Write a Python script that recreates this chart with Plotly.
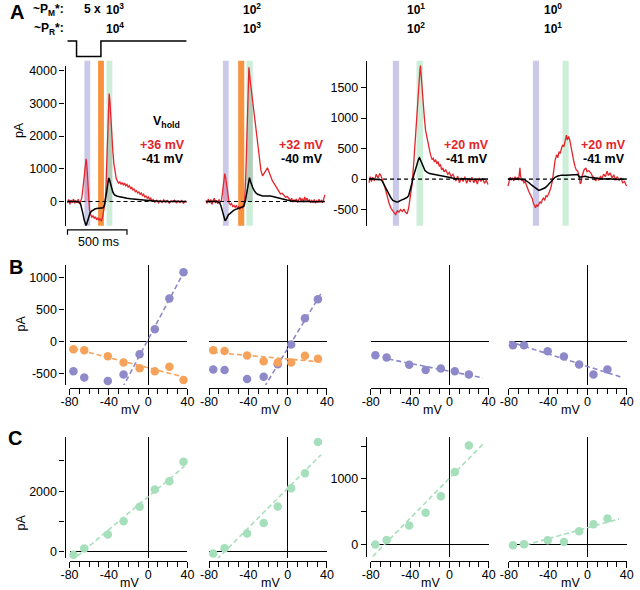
import numpy as np
import plotly.graph_objects as go

# ---------------- data ----------------
# Panel A: whole-cell currents (time in ms, current in pA)
a1_red_t = [0,10,20,30,40,50,60,70,80,90,100,110,120,130,140,150,156,162,170,178,185,195,205,215,225,235,245,255,265,275,285,295,305,315,322,330,338,345,350,356,363,370,380,390,400,410,420,430,440,450,460,470,480,490,500,510,520,530,540,550,560,570,580,590,600,610,620,630,640,650,660,670,680,690,700,710,720,735,750,765,780,795,810,825,840,855,870,885,900,915,930,945,960,975,990,1000]
a1_red_pa = [-50,60,-90,40,-30,80,-60,30,-40,70,-80,20,100,400,850,1200,1300,1150,600,100,-250,-400,-480,-430,-520,-470,-560,-500,-580,-520,-600,-480,-300,-50,300,1200,2300,3100,3300,3100,2600,2200,1600,1150,900,700,620,560,600,520,580,500,560,480,520,440,480,400,430,350,380,300,330,260,290,220,260,180,220,140,170,100,140,60,100,20,60,-20,40,-40,30,-30,50,-20,30,-50,20,-10,40,-40,20,-30,30,-50,10,-20]
a1_blk_t = [0,20,40,60,80,100,110,120,130,140,150,156,162,170,180,190,200,215,230,245,260,275,290,300,310,320,330,340,347,355,362,370,380,390,400,420,440,460,480,500,530,560,590,620,650,680,710,740,770,800,830,860,890,920,950,1000]
a1_blk_pa = [0,10,-10,5,-5,-20,-80,-200,-380,-560,-700,-740,-680,-560,-430,-350,-300,-260,-230,-215,-210,-205,-200,-190,-120,50,300,580,720,640,520,400,300,230,190,160,140,120,110,100,85,70,60,50,40,30,20,10,5,0,10,-5,5,-5,0,0]

a2_red_t = [0,10,20,30,40,50,60,70,80,90,100,110,120,130,140,150,158,165,175,185,195,205,215,225,235,245,255,265,275,285,295,305,315,325,335,345,353,361,372,385,394,405,415,421,435,448,462,476,490,505,517,530,544,560,575,585,600,615,626,640,655,670,685,694,710,720,730,740,750,760,770,780,790,800,810,820,830,840,850,860,870,880,890,900,910,920,930,940,950,960,970,980,990,1000]
a2_red_pa = [30,-60,80,-40,60,-90,20,100,-50,40,-70,60,-30,20,300,650,850,750,450,150,-50,-100,-60,-150,-120,-180,-130,-200,-150,-220,-170,-200,-120,0,800,2200,3500,4100,3700,3300,3000,2600,2300,2150,1700,1250,950,780,850,950,1030,900,780,620,540,480,380,280,230,250,170,130,150,100,30,100,-20,60,0,80,-30,50,120,20,90,-20,140,40,100,-10,60,-40,30,-20,60,-50,20,-30,70,-20,30,-40,100,200]
a2_blk_t = [0,20,40,60,80,100,115,125,135,145,155,161,168,178,190,202,215,230,245,260,275,290,305,318,330,340,350,358,366,374,384,394,405,420,435,455,475,500,520,540,560,590,620,650,680,710,740,780,850,900,1000]
a2_blk_pa = [0,5,-5,0,5,-10,-40,-120,-250,-400,-540,-590,-560,-470,-400,-370,-320,-280,-250,-230,-215,-200,-190,-150,0,200,450,650,730,620,500,420,340,260,220,190,170,165,175,165,150,120,95,70,45,25,10,0,5,-5,0]

a3_red_t = [0,10,20,30,45,60,75,90,101,115,130,142,155,170,185,197,210,224,238,252,265,280,293,305,320,333,347,361,375,388,400,410,420,428,432,438,444,449,457,465,475,484,495,505,511,520,530,539,550,560,570,580,590,600,610,621,630,645,662,675,690,705,716,730,745,760,775,790,805,820,835,850,865,880,895,910,925,940,955,970,985,1000]
a3_red_pa = [-60,40,-40,30,-30,80,20,90,50,-20,-120,-200,-300,-410,-480,-520,-550,-580,-520,-540,-500,-530,-490,-540,-570,-470,-300,-90,250,670,1000,1270,1550,1800,1860,1700,1450,1420,1250,1000,800,700,560,460,450,380,320,340,280,320,250,290,210,240,150,185,120,150,80,110,40,80,30,-30,50,-60,20,-40,40,-70,10,-50,30,-60,0,-80,20,-40,10,-70,-20,-90]
a3_blk_t = [0,30,60,90,101,115,130,142,156,170,185,200,215,230,245,260,275,290,305,320,333,347,361,375,388,400,410,418,424,432,443,456,470,490,510,530,560,600,634,670,716,760,800,900,1000]
a3_blk_pa = [0,5,-5,0,-10,-50,-110,-160,-220,-260,-310,-350,-370,-375,-370,-350,-340,-330,-320,-300,-270,-180,-60,60,150,240,300,340,350,310,260,190,140,110,90,85,75,60,50,30,10,0,5,-5,0]

a4_red_t = [0,10,20,30,41,50,60,70,80,90,96,101,106,115,125,135,145,155,164,175,185,195,205,215,225,232,240,250,260,270,280,290,300,310,320,330,341,350,360,374,385,396,410,420,430,440,451,460,470,480,492,500,510,519,528,537,546,555,565,575,587,600,608,615,625,640,656,665,680,697,710,725,738,750,765,779,790,805,820,834,845,860,875,890,905,920,935,950,965,980,997]
a4_red_pa = [-114,-50,30,-20,22,-30,40,-10,30,-20,80,185,60,-30,-10,-60,-40,-110,-142,-200,-240,-280,-320,-400,-440,-470,-420,-450,-410,-370,-400,-330,-310,-350,-270,-290,-250,-200,-150,-30,150,300,400,350,450,420,510,560,530,650,720,640,700,650,550,420,350,280,200,150,130,40,-80,-60,60,150,185,120,140,100,50,20,-30,20,-20,50,10,80,40,130,60,100,20,70,-10,40,-20,20,-60,-40,-114]
a4_blk_t = [0,50,100,140,160,178,200,220,232,250,260,275,290,314,335,355,375,396,420,451,490,533,560,587,600,620,650,680,710,750,800,860,900,1000]
a4_blk_pa = [0,5,0,-10,-30,-60,-100,-130,-142,-175,-185,-175,-160,-142,-100,-60,-10,30,50,65,65,65,70,76,30,40,45,30,20,10,0,5,-5,0]

# Analysis windows (ms): early (purple), middle (orange), late (green)
a_windows = [
    {"early": [142, 191], "mid": [257, 306], "late": [328, 377]},
    {"early": [142, 191], "mid": [271, 322], "late": [340, 394]},
    {"early": [200, 252], "late": [399, 454]},
    {"early": [210, 262], "late": [459, 511]},
]
# light stimulus (0 = off, 1 = on), panel A1
stim_t = [0, 76, 76, 281, 281, 1000]
stim_on = [0, 0, 1, 1, 0, 0]

# Labels
pm_labels = ["10<sup>3</sup>", "10<sup>2</sup>", "10<sup>1</sup>", "10<sup>0</sup>"]
pr_labels = ["10<sup>4</sup>", "10<sup>3</sup>", "10<sup>2</sup>", "10<sup>1</sup>"]
vhold_pos = ["+36 mV", "+32 mV", "+20 mV", "+20 mV"]
vhold_neg = ["-41 mV", "-40 mV", "-41 mV", "-41 mV"]

# Panels B & C: I-V relations (mV, pA)
col_mv = [
    [-76, -65, -41, -25, -8.7, 6.8, 21.6, 36],
    [-75.7, -64.2, -41.3, -24.4, -10.1, 3.6, 17.6, 30.8],
    [-75.3, -63.9, -40.9, -24.2, -8.7, 5.5, 19.8],
    [-75.8, -64.6, -40.5, -24.0, -8.5, 6.1, 20.3],
]
b_early = [
    [-467, -565, -622, -518, -202, 187, 669, 1078],
    [-440, -451, -591, -555, -360, -51, 358, 658],
    [-218, -254, -368, -451, -425, -467, -518],
    [-62, -62, -156, -238, -363, -518, -440],
]
b_mid = [
    [-124, -140, -233, -331, -420, -467, -400, -607],
    [-140, -151, -223, -311, -331, -331, -228, -275],
    None,
    None,
]
c_late = [
    [-98, 111, 570, 1006, 1485, 2056, 2328, 2974],
    [-52, 121, 603, 951, 1498, 2098, 2590, 3620],
    [0, 70, 288, 485, 737, 1106, 1509],
    [-10, 5, 65, 40, 202, 308, 398],
]
# which points enter each regression, and the voltage span of the drawn line
early_fit = [(4, -30, 37), (4, -28, 34), (0, -62, 34), (0, -80, 36)]
mid_fit = [(0, -76, 38), (0, -76, 34), None, None]
late_fit = [(0, -72, 37), (0, -72, 34), (0, -78, 35), (0, -63, 32)]

# ---------------- styling ----------------
W, H = 640, 590
FONT = "Liberation Sans, Arial, Helvetica, sans-serif"
RED = "#e3262b"
PURPLE = "#8e89c9"
ORANGE = "#f6a25a"
GREEN = "#a6dfbb"
BAND = {"early": "#cbc9ea", "mid": "#f7923f", "late": "#cdeed9"}
AREA = {"early": "rgba(225,110,150,0.45)", "late": "rgba(120,130,120,0.30)"}
MSPX = 500 / 61.0


def px(x):
    return x / W


def py(y):
    return 1 - y / H


def yspan(zero, ppu, top, bot):
    return dict(domain=[py(bot), py(top)], range=[(zero - bot) / ppu, (zero - top) / ppu])


def fmt(v):
    return str(v)


ystyle = dict(showline=True, linecolor="black", linewidth=1.2, ticks="outside",
              ticklen=5, tickwidth=1.2, tickcolor="black", showgrid=False,
              zeroline=False, tickfont=dict(size=12.5), tickmode="array")

lay = dict(width=W, height=H, autosize=False, margin=dict(l=0, r=0, t=0, b=0),
           paper_bgcolor="white", plot_bgcolor="rgba(0,0,0,0)", showlegend=False,
           font=dict(family=FONT, size=12.5, color="black"))


def an(n):
    return "" if n == 1 else str(n)


fig = go.Figure()
shapes = []
annots = []

# ---------- Row A ----------
a_t0 = [60, 202, 369.3, 511.7]
a_y = [yspan(200.5, 0.0329, 64, 225), yspan(200.5, 0.0329, 64, 225),
       yspan(178, 0.0613, 59, 225), yspan(178, 0.0613, 59, 225)]
a_ticks = [[0, 1000, 2000, 3000, 4000], None, [-500, 0, 500, 1000, 1500], None]
a_axpos = [57, None, 366, None]
band_top = [(225 - 59) / (225 - 64), (225 - 59) / (225 - 64), 1.0, 1.0]
shade_area = [True, True, False, False]
reds = [(a1_red_t, a1_red_pa), (a2_red_t, a2_red_pa), (a3_red_t, a3_red_pa), (a4_red_t, a4_red_pa)]
blks = [(a1_blk_t, a1_blk_pa), (a2_blk_t, a2_blk_pa), (a3_blk_t, a3_blk_pa), (a4_blk_t, a4_blk_pa)]

for i in range(4):
    n = i + 1
    xa, ya = "x" + an(n), "y" + an(n)
    lay["xaxis" + an(n)] = dict(domain=[px(a_t0[i] - 3), px(a_t0[i] + 126)],
                               range=[-3 * MSPX, 126 * MSPX], visible=False, anchor=ya)
    if a_ticks[i] is not None:
        lay["yaxis" + an(n)] = dict(**a_y[i], **ystyle, anchor="free", position=px(a_axpos[i]),
                                   tickvals=a_ticks[i], ticktext=[fmt(v) for v in a_ticks[i]])
    else:
        lay["yaxis" + an(n)] = dict(**a_y[i], visible=False, anchor=xa)
    for key, (t0, t1) in a_windows[i].items():
        shapes.append(dict(type="rect", xref=xa, yref=ya + " domain",
                           x0=t0, x1=t1, y0=0, y1=band_top[i], fillcolor=BAND[key],
                           line=dict(width=0), layer="below"))
    rt, rv = reds[i]
    bt, bv = blks[i]
    if shade_area[i]:
        rta, rva = np.array(rt, float), np.array(rv, float)
        for key in ("early", "late"):
            t0, t1 = a_windows[i][key]
            m = (rta > t0) & (rta < t1)
            xs = np.concatenate([[t0], rta[m], [t1]])
            ys = np.concatenate([[np.interp(t0, rta, rva)], rva[m], [np.interp(t1, rta, rva)]])
            fig.add_trace(go.Scatter(x=xs, y=ys, mode="lines", fill="tozeroy",
                                     fillcolor=AREA[key], line=dict(width=0),
                                     xaxis=xa, yaxis=ya, hoverinfo="skip"))
    fig.add_trace(go.Scatter(x=rt, y=rv, mode="lines", line=dict(color=RED, width=1.3),
                             xaxis=xa, yaxis=ya, hoverinfo="skip"))
    fig.add_trace(go.Scatter(x=bt, y=bv, mode="lines", line=dict(color="black", width=1.5),
                             xaxis=xa, yaxis=ya, hoverinfo="skip"))
    fig.add_trace(go.Scatter(x=[0, 1000], y=[0, 0], mode="lines",
                             line=dict(color="black", width=1.2, dash="4px,3px"),
                             xaxis=xa, yaxis=ya, hoverinfo="skip"))

# stimulus trace above A1
lay["yaxis13"] = dict(domain=[py(57), py(37)], range=[1.15, -0.15], visible=False, anchor="x")
fig.add_trace(go.Scatter(x=stim_t, y=stim_on, mode="lines", line=dict(color="black", width=1.5),
                         xaxis="x", yaxis="y13", hoverinfo="skip"))

# scale bar 500 ms
shapes.append(dict(type="path", xref="x", yref="paper",
                   path=f"M 0,{py(234)} L 0,{py(229)} L 500,{py(229)} L 500,{py(234)}",
                   line=dict(color="black", width=1.2)))

# ---------- Rows B & C ----------
bc_zero = [142.7, 285.8, 451.7, 593.3]
PPM = 1.008
xminor = [-70, -60, -50, -30, -20, -10, 10, 20, 30]
xstyle = dict(showline=True, linecolor="black", linewidth=1.2, ticks="outside", ticklen=6,
              tickwidth=1.2, tickcolor="black", showgrid=False, zeroline=True,
              zerolinecolor="black", zerolinewidth=1.3, tickmode="array",
              tickvals=[-80, -40, 0, 40], ticktext=["-80", "-40", "0", "40"],
              minor=dict(tickmode="array", tickvals=xminor, ticks="outside", ticklen=5,
                         tickwidth=1.2, tickcolor="black"),
              range=[-80, 40], tickfont=dict(size=12.5), ticklabelstandoff=-4)
hidden_y = dict(showline=False, ticks="", showticklabels=False, showgrid=False,
                zeroline=True, zerolinecolor="black", zerolinewidth=1.3)

b_y = yspan(341, 0.0643, 264, 385)
c_y = [yspan(552.7, 0.0305, 437, 559), yspan(552.7, 0.0305, 437, 559),
       yspan(545.3, 0.066, 437, 558), yspan(545.3, 0.066, 437, 558)]


def add_fit(mv, pa, spec, color, xa, ya):
    start, lo, hi = spec
    k, b = np.polyfit(np.array(mv[start:]), np.array(pa[start:]), 1)
    xs = np.array([lo, hi])
    fig.add_trace(go.Scatter(x=xs, y=k * xs + b, mode="lines",
                             line=dict(color=color, width=1.6, dash="5px,3px"),
                             xaxis=xa, yaxis=ya, hoverinfo="skip"))


def add_dots(mv, pa, color, xa, ya):
    fig.add_trace(go.Scatter(x=mv, y=pa, mode="markers",
                             marker=dict(color=color, size=8.5, line=dict(width=0)),
                             xaxis=xa, yaxis=ya, hoverinfo="skip", cliponaxis=False))


for i in range(4):
    # B
    nb = 5 + i
    dom = [px(bc_zero[i] - 80 * PPM), px(bc_zero[i] + 40 * PPM)]
    lay["xaxis" + str(nb)] = dict(domain=dom, anchor="free", position=py(388), **xstyle)
    if i == 0:
        ycfg = dict(**b_y, **ystyle, anchor="free", position=px(57),
                    tickvals=[-500, 0, 500, 1000], ticktext=["-500", "0", "500", "1000"])
        ycfg.update(zeroline=True, zerolinecolor="black", zerolinewidth=1.3)
        lay["yaxis" + str(nb)] = ycfg
    else:
        lay["yaxis" + str(nb)] = dict(**b_y, **hidden_y, anchor="x" + str(nb))
    xa, ya = "x" + str(nb), "y" + str(nb)
    add_fit(col_mv[i], b_early[i], early_fit[i], PURPLE, xa, ya)
    if b_mid[i] is not None:
        add_fit(col_mv[i], b_mid[i], mid_fit[i], ORANGE, xa, ya)
    add_dots(col_mv[i], b_early[i], PURPLE, xa, ya)
    if b_mid[i] is not None:
        add_dots(col_mv[i], b_mid[i], ORANGE, xa, ya)

    # C
    nc = 9 + i
    lay["xaxis" + str(nc)] = dict(domain=dom, anchor="free", position=py(562), **xstyle)
    if i in (0, 2):
        if i == 0:
            tv, mt = [0, 2000], [1000, 3000]
        else:
            tv, mt = [0, 1000], [500, 1500]
        ycfg = dict(**c_y[i], **ystyle, anchor="free", position=px(57 if i == 0 else 366),
                    tickvals=tv, ticktext=[fmt(v) for v in tv],
                    minor=dict(tickmode="array", tickvals=mt, ticks="outside", ticklen=5,
                               tickwidth=1.2, tickcolor="black"))
        ycfg.update(zeroline=True, zerolinecolor="black", zerolinewidth=1.3)
        lay["yaxis" + str(nc)] = ycfg
    else:
        lay["yaxis" + str(nc)] = dict(**c_y[i], **hidden_y, anchor="x" + str(nc))
    xa, ya = "x" + str(nc), "y" + str(nc)
    add_fit(col_mv[i], c_late[i], late_fit[i], GREEN, xa, ya)
    add_dots(col_mv[i], c_late[i], GREEN, xa, ya)


# ---------- text ----------
def label(x, y, text, size=12.5, xanchor="center", color="black", angle=0):
    annots.append(dict(x=px(x), y=py(y), xref="paper", yref="paper", text=text,
                       showarrow=False, xanchor=xanchor, yanchor="middle", textangle=angle,
                       font=dict(size=size, color=color, family=FONT)))


label(8, 10, "<b>A</b>", size=20)
label(7.5, 266, "<b>B</b>", size=20)
label(6.5, 438, "<b>C</b>", size=20)
label(41, 8, "<b>~P<sub>M</sub>*:</b>", size=12)
label(41, 27, "<b>~P<sub>R</sub>*:</b>", size=12)
label(86, 7, "<b>5 x</b>", size=12)
pm_x = [108.5, 249.5, 417.5, 558]
for i in range(4):
    label(pm_x[i], 7, "<b>" + pm_labels[i] + "</b>", size=12)
    label(pm_x[i], 26, "<b>" + pr_labels[i] + "</b>", size=12)
label(162, 121, "<b>V<sub>hold</sub></b>", size=12.5)
vx = [182.5, 325.5, 494.5, 635]
for i in range(4):
    label(vx[i], 144, "<b>" + vhold_pos[i] + "</b>", size=12.5, xanchor="right", color=RED)
    label(vx[i] - 1, 158, "<b>" + vhold_neg[i] + "</b>", size=12.5, xanchor="right")
label(91.5, 241, "500 ms", size=12.5)
label(10.5, 128.5, "pA", size=12.5, angle=-90)
label(12.5, 323, "pA", size=12.5, angle=-90)
label(12.5, 523, "pA", size=12.5, angle=-90)
for x in [125, 268, 434, 576]:
    label(x, 410, "mV", size=12.5)
for x in [124, 268, 432.5, 576]:
    label(x, 584, "mV", size=12.5)

lay["shapes"] = shapes
lay["annotations"] = annots
fig.update_layout(**lay)
fig.write_html("out.html", config={"displayModeBar": False},
               post_script="document.body.style.margin='0px';document.body.style.padding='0px';"
                           "document.body.style.overflow='hidden';")
